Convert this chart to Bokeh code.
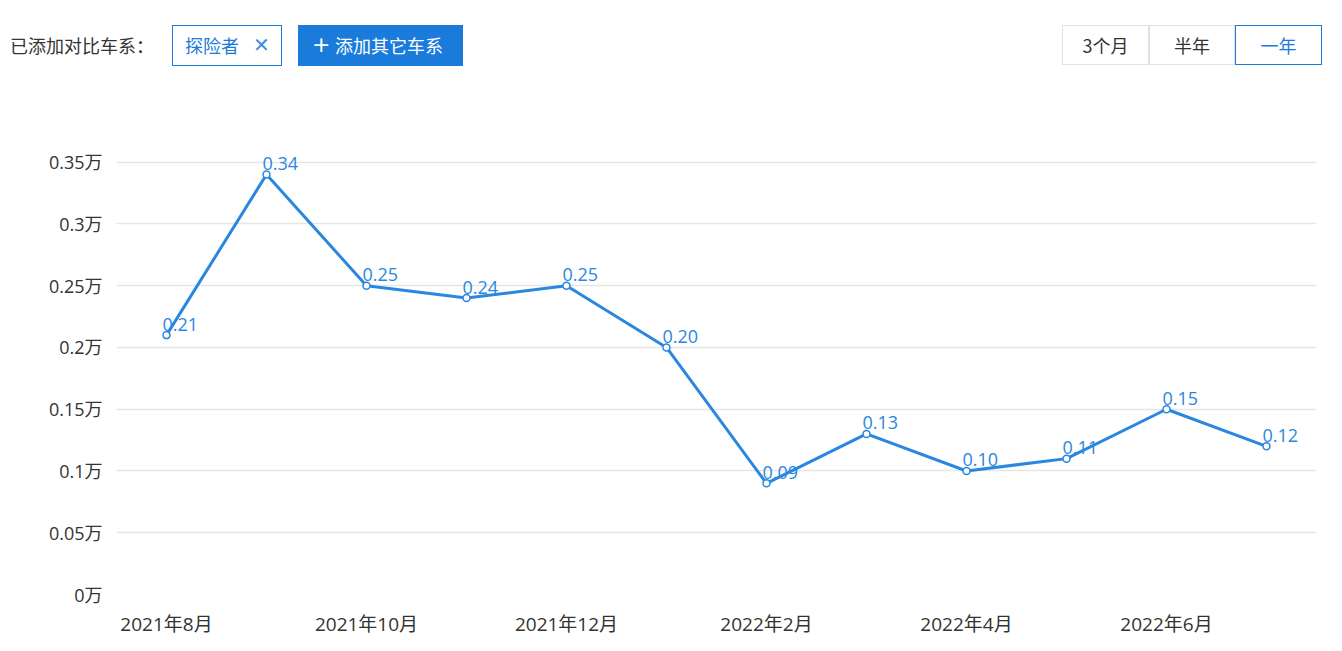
from bokeh.plotting import figure
from bokeh.models import Range1d, FixedTicker, ColumnDataSource, Div
from bokeh.layouts import column
from bokeh.core.properties import value
from bokeh.embed import file_html
from bokeh.resources import INLINE

# ---- data ----
months = ["2021年8月", "2021年9月", "2021年10月", "2021年11月", "2021年12月", "2022年1月",
          "2022年2月", "2022年3月", "2022年4月", "2022年5月", "2022年6月", "2022年7月"]
sales = [0.21, 0.34, 0.25, 0.24, 0.25, 0.20, 0.09, 0.13, 0.10, 0.11, 0.15, 0.12]
y_ticks = [0, 0.05, 0.1, 0.15, 0.2, 0.25, 0.3, 0.35]
y_tick_labels = ["0万", "0.05万", "0.1万", "0.15万", "0.2万", "0.25万", "0.3万", "0.35万"]
x_tick_idx = [0, 2, 4, 6, 8, 10]
series_name = "探险者"
ranges = ["3个月", "半年", "一年"]

BLUE = "#2a87e0"
BTN = "#1a7bdb"
FONT = "'Open Sans', 'Noto Sans CJK SC', sans-serif"
CJK = "'Noto Sans CJK SC', sans-serif"

# ---- header controls ----
seg_lefts = [1054, 1141, 1227]
seg_widths = [87, 86, 87]
segs = ""
for i, (lbl, l, w) in enumerate(zip(ranges, seg_lefts, seg_widths)):
    active = i == len(ranges) - 1
    border = BTN if active else "#e0e0e0"
    color = BTN if active else "#333"
    z = 2 if active else 1
    segs += (f'<div style="position:absolute;left:{l}px;top:17px;width:{w}px;height:40px;'
             f'box-sizing:border-box;border:1px solid {border};color:{color};z-index:{z};'
             f'text-align:center;line-height:38px;font-size:18px;background:#fff;">{lbl}</div>')

html = f'''
<div style="position:relative;width:1326px;height:100px;font-family:{CJK};color:#333;">
  <div style="position:absolute;left:2px;top:17px;height:40px;line-height:40px;font-size:18px;color:#333;">已添加对比车系：</div>
  <div style="position:absolute;left:164px;top:17px;width:110px;height:41px;box-sizing:border-box;
       border:1px solid {BTN};color:{BTN};font-size:18px;line-height:39px;">
    <span style="position:absolute;left:12px;">{series_name}</span>
    <span style="position:absolute;left:80px;top:0px;font-size:20px;font-family:'DejaVu Sans';font-weight:bold;color:#3b8de0;">✕</span>
  </div>
  <div style="position:absolute;left:290px;top:17px;width:165px;height:41px;background:{BTN};
       color:#fff;font-size:18px;line-height:41px;">
    <span style="position:absolute;left:14px;top:-1px;font-size:22px;font-family:'DejaVu Sans';">+</span>
    <span style="position:absolute;left:37px;">添加其它车系</span>
  </div>
  {segs}
</div>
'''
header = Div(text=html, width=1326, height=100, margin=(0, 0, 0, 0))

# ---- chart ----
x = list(range(len(months)))
src = ColumnDataSource(dict(x=x, y=sales, label=[f"{v:.2f}" for v in sales]))

p = figure(width=1326, height=535, output_backend="svg", toolbar_location=None,
           x_range=Range1d(-0.5, len(months) - 0.5), y_range=Range1d(0, 0.37),
           min_border_left=108, min_border_right=18, min_border_top=29, min_border_bottom=49,
           margin=(0, 0, 0, 0))
p.outline_line_color = None
p.background_fill_color = "#ffffff"
p.border_fill_color = "#ffffff"
p.xgrid.grid_line_color = None
p.ygrid.grid_line_color = "#e6e6e6"
p.ygrid.grid_line_width = 1.5

p.yaxis.ticker = FixedTicker(ticks=y_ticks)
p.yaxis.major_label_overrides = {t: l for t, l in zip(y_ticks, y_tick_labels)}
p.xaxis.ticker = FixedTicker(ticks=x_tick_idx)
p.xaxis.major_label_overrides = {i: months[i] for i in x_tick_idx}
for ax in (p.xaxis, p.yaxis):
    ax.axis_line_color = None
    ax.major_tick_line_color = None
    ax.minor_tick_line_color = None
    ax.major_tick_out = 0
    ax.major_tick_in = 0
    ax.major_label_text_font = FONT
    ax.major_label_text_color = "#333333"
p.yaxis.major_label_text_font_size = "18px"
p.xaxis.major_label_text_font_size = "19px"
p.yaxis.major_label_standoff = 14
p.xaxis.major_label_standoff = 16

p.line("x", "y", source=src, line_color=BLUE, line_width=3)
p.scatter("x", "y", source=src, size=7, fill_color="white", line_color=BLUE, line_width=1.5)
p.text("x", "y", text="label", source=src, x_offset=-4, y_offset=-4.5,
       text_align="left", text_baseline="bottom", text_color=BLUE,
       text_font=value(FONT), text_font_size="18px")

layout = column(header, p, spacing=0, margin=(8, 8, 8, 8))
open("out.html", "w").write(file_html(layout, INLINE))
